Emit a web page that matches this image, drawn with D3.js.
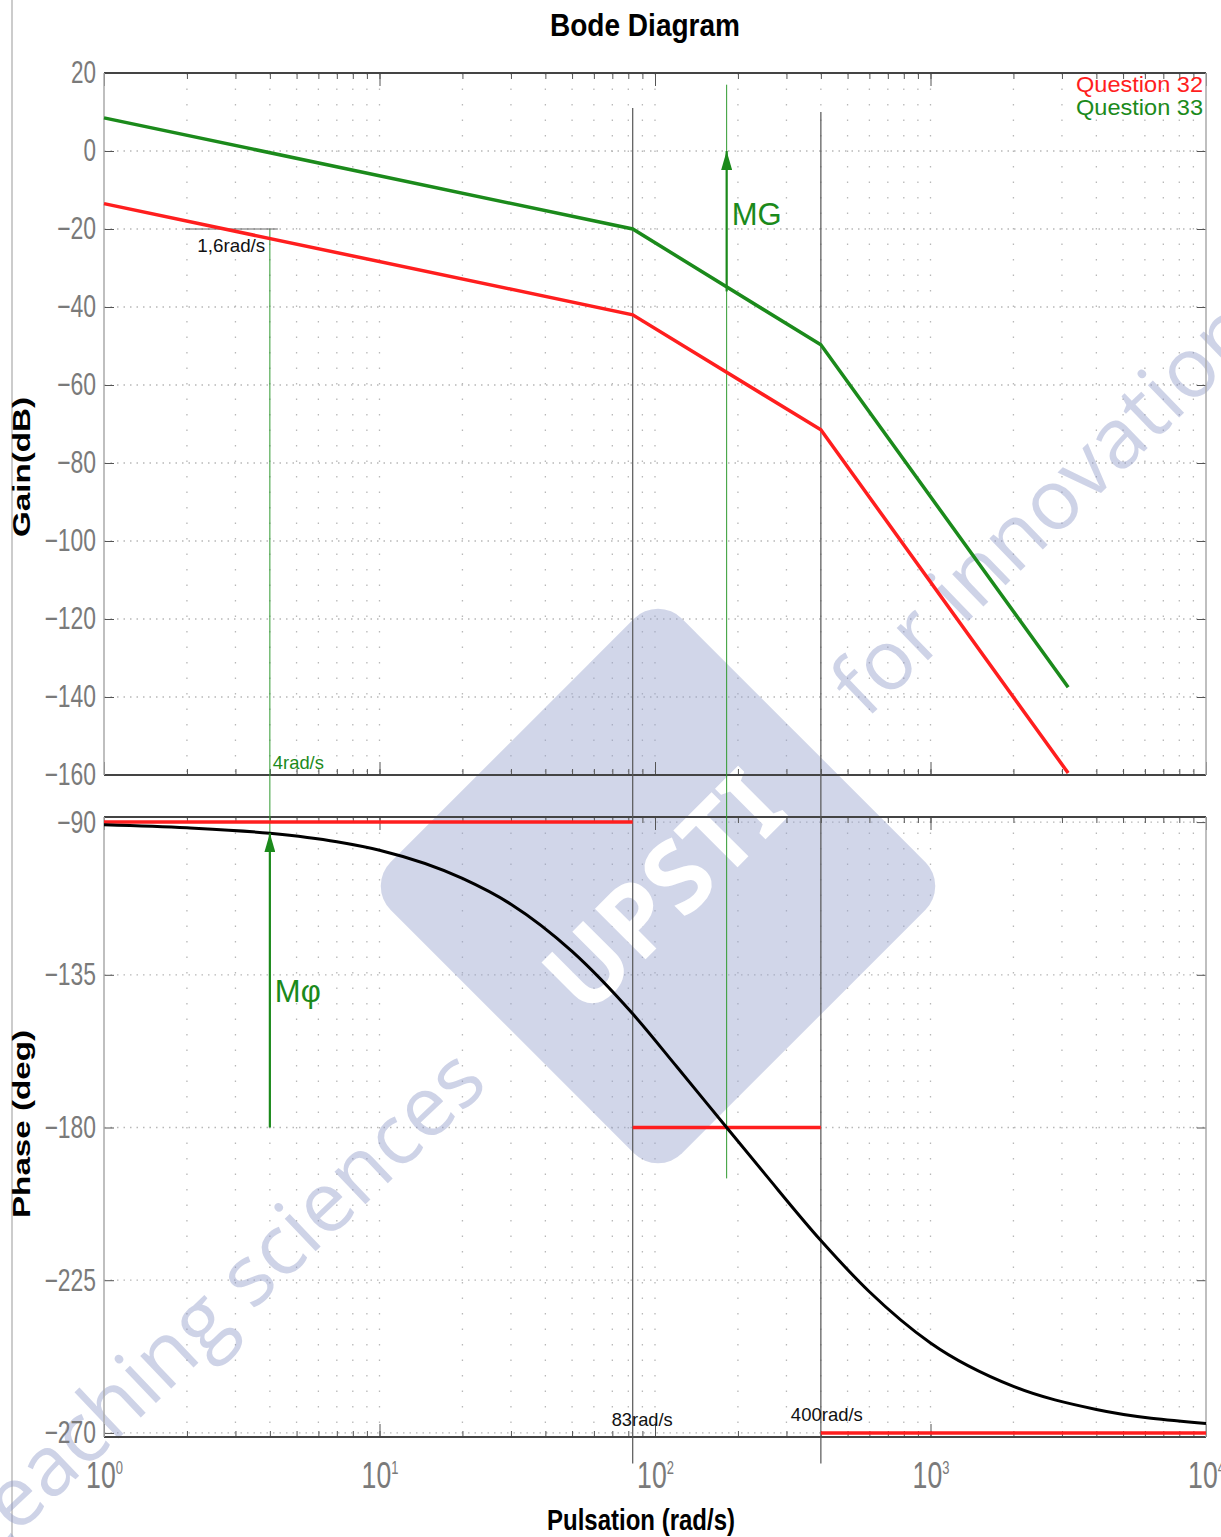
<!DOCTYPE html>
<meta charset="utf-8">
<style>
body { margin: 0; background: #fff; }
text { font-family: "Liberation Sans", Arial, sans-serif; }
.tick line { stroke: #555; stroke-width: 1; }
.grid line { stroke: #b8b8b8; stroke-width: 1.3; }
</style>
<body>
<script src="https://cdn.jsdelivr.net/npm/d3@7"></script>
<script>
// ---- data ----
var breakFreq = [1, 83, 400, 3160];               // rad/s
var gainQ32 = [-13.5, -42, -71.5, -159.5];        // dB, red
var gainQ33 = [8.5, -20, -49.7, -137.5];          // dB, green

var phaseFreq = [1, 2, 4, 7, 10, 20, 30, 50, 83, 120, 182, 250, 400, 600, 1000, 2000, 4000, 10000];
var phaseDeg = [-90.8, -91.7, -93.3, -95.8, -98.3, -106.6, -114.2, -128.1, -146.5, -162.1,
                -180, -193.6, -213.3, -228.4, -243.5, -256.3, -263.1, -267.2];

var asymFrom = [1, 83, 400];
var asymTo = [83, 400, 10000];
var asymDeg = [-90, -180, -270];

var gainTicks = [20, 0, -20, -40, -60, -80, -100, -120, -140, -160];
var phaseTicks = [-90, -135, -180, -225, -270];
var decades = [1, 10, 100, 1000, 10000];
var decadeExp = ["0", "1", "2", "3", "4"];

var cornerFreq = [83, 400];
var cornerLabel = ["83rad/s", "400rad/s"];
var legendNames = ["Question 32", "Question 33"];

var wMG = 182, gainAtMG = -36;     // gain margin arrow (green curve at phase crossover)
var wPM = 4, phaseAtPM = -93.3;    // phase margin arrow
var w16 = 1.6;

var RED = "#ff1e1e", GREEN = "#1b8a1b";

// ---- layout ----
var W = 1221, H = 1537;
var x = d3.scaleLog().domain([1, 1e4]).range([104, 1206]);
var yG = d3.scaleLinear().domain([-160, 20]).range([775, 73]);
var yP = d3.scaleLinear().domain([-271.2, -88.5]).range([1437, 817]);

var svg = d3.select("body").append("svg")
  .attr("width", W).attr("height", H);

var defs = svg.append("defs");
defs.append("marker")
  .attr("id", "head")
  .attr("viewBox", "0 0 10 10")
  .attr("refX", 10).attr("refY", 5)
  .attr("markerUnits", "userSpaceOnUse")
  .attr("markerWidth", 19).attr("markerHeight", 11)
  .attr("preserveAspectRatio", "none")
  .attr("orient", "auto")
  .append("path").attr("d", "M0,0 L10,5 L0,10 z").attr("fill", GREEN);

// page edge line
svg.append("line").attr("x1", 12).attr("x2", 12).attr("y1", 0).attr("y2", H)
  .style("stroke", "#bbb").style("stroke-width", 1.5);

// all minor frequencies
var minorFreq = [];
for (var d = 0; d < 4; d++) for (var k = 1; k < 10; k++) minorFreq.push(k * Math.pow(10, d));
minorFreq.push(1e4);

// ---- grids ----
function drawGrid(y, ticks) {
  var r = y.range();
  var g = svg.append("g").attr("class", "grid");
  g.selectAll(".v").data(minorFreq.filter(function(f) { return f > 1 && f < 1e4; }))
    .enter().append("line")
    .attr("x1", function(f) { return x(f); }).attr("x2", function(f) { return x(f); })
    .attr("y1", r[1]).attr("y2", r[0])
    .style("stroke-dasharray", "1.5,14");
  g.selectAll(".h").data(ticks).enter().append("line")
    .attr("x1", x(1)).attr("x2", x(1e4))
    .attr("y1", function(t) { return y(t); }).attr("y2", function(t) { return y(t); })
    .style("stroke-dasharray", "1.5,5");
}
drawGrid(yG, gainTicks);
drawGrid(yP, phaseTicks);

// ---- watermark ----
var wm = svg.append("g").attr("transform", "translate(658,886) rotate(-45)");
wm.append("rect").attr("x", -206).attr("y", -206).attr("width", 412).attr("height", 412)
  .attr("rx", 34).style("fill", "#9aa4cf").style("opacity", 0.45);
wm.append("text").attr("x", 0).attr("y", 8).attr("dy", "0.35em")
  .attr("text-anchor", "middle")
  .attr("textLength", 290).attr("lengthAdjust", "spacingAndGlyphs")
  .style("font-family", "'Noto Sans', sans-serif").style("font-weight", "bold")
  .style("font-size", "100px").style("fill", "#fff")
  .text("UPSTI");

svg.append("g").attr("transform", "translate(490,1086) rotate(-43.5)")
  .append("text").attr("text-anchor", "end")
  .style("font-family", "'Open Sans', sans-serif").style("font-size", "84px")
  .style("fill", "#8c97c8").style("opacity", 0.42)
  .text("teaching sciences");
svg.append("g").attr("transform", "translate(866,720) rotate(-44)")
  .append("text").attr("text-anchor", "start")
  .style("font-family", "'Open Sans', sans-serif").style("font-size", "84px")
  .style("fill", "#8c97c8").style("opacity", 0.42)
  .text("for innovation");

// ---- axes ----
function yLabels(sel) {
  sel.selectAll("text")
    .style("font-size", "31px").style("fill", "#7a7a7a")
    .attr("textLength", function(d) {
      var s = String(Math.abs(d));
      return s.length * 12.5 + (d < 0 ? 14 : 0);
    })
    .attr("lengthAdjust", "spacingAndGlyphs");
  sel.select(".domain").remove();
}

function panel(y, ticks) {
  var r = y.range();
  svg.append("g").attr("transform", "translate(" + x(1) + ",0)")
    .call(d3.axisLeft(y).tickValues(ticks).tickSize(-10).tickPadding(8))
    .call(yLabels);
  svg.append("g").attr("transform", "translate(" + x(1e4) + ",0)")
    .call(d3.axisRight(y).tickValues(ticks).tickSize(-9).tickFormat(""))
    .call(function(s) { s.select(".domain").remove(); });

  [[r[1], d3.axisTop], [r[0], d3.axisBottom]].forEach(function(p) {
    svg.append("g").attr("transform", "translate(0," + p[0] + ")")
      .call(p[1](x).tickValues(minorFreq).tickSize(-6).tickFormat(""))
      .call(function(s) { s.select(".domain").remove(); });
    svg.append("g").attr("transform", "translate(0," + p[0] + ")")
      .call(p[1](x).tickValues(decades).tickSize(-13).tickFormat(""))
      .call(function(s) { s.select(".domain").remove(); });
  });

  // frame
  svg.append("line").attr("x1", x(1)).attr("x2", x(1e4)).attr("y1", r[1]).attr("y2", r[1])
    .style("stroke", "#444").style("stroke-width", 2);
  svg.append("line").attr("x1", x(1)).attr("x2", x(1e4)).attr("y1", r[0]).attr("y2", r[0])
    .style("stroke", "#444").style("stroke-width", 2);
  svg.append("line").attr("x1", x(1)).attr("x2", x(1)).attr("y1", r[1]).attr("y2", r[0])
    .style("stroke", "#aaa").style("stroke-width", 1.5);
  svg.append("line").attr("x1", x(1e4)).attr("x2", x(1e4)).attr("y1", r[1]).attr("y2", r[0])
    .style("stroke", "#aaa").style("stroke-width", 1.5);
}
panel(yG, gainTicks);
panel(yP, phaseTicks);

// decade labels 10^n under the phase plot
var xl = svg.append("g").attr("transform", "translate(0," + yP.range()[0] + ")")
  .call(d3.axisBottom(x).tickValues(decades).tickSize(0).tickPadding(25).tickFormat(function() { return "10"; }));
xl.select(".domain").remove();
xl.selectAll("text")
  .style("font-size", "37px").style("fill", "#7a7a7a")
  .attr("transform", "scale(0.72,1)")
  .append("tspan").attr("dy", "-14px").style("font-size", "18px")
  .text(function(d, i) { return decadeExp[i]; });

// ---- reference lines ----
svg.selectAll(".corner").data(cornerFreq).enter().append("line")
  .attr("x1", function(f) { return x(f); }).attr("x2", function(f) { return x(f); })
  .attr("y1", function(f, i) { return yG(i ? 10 : 11); })
  .attr("y2", yP(-279))
  .style("stroke", "#555").style("stroke-width", 1.2);

// thin green guide at phase crossover
svg.append("line").attr("x1", x(wMG)).attr("x2", x(wMG))
  .attr("y1", yG(17)).attr("y2", yP(-195))
  .style("stroke", "#2f9a2f").style("stroke-width", 1);

// thin green guide at gain crossover
svg.append("line").attr("x1", x(wPM)).attr("x2", x(wPM))
  .attr("y1", yG(-20)).attr("y2", yP(phaseAtPM))
  .style("stroke", "#2f9a2f").style("stroke-width", 1);

// 1,6 rad/s marker
svg.append("line").attr("x1", x(w16) + 25).attr("x2", x(wPM) + 8)
  .attr("y1", yG(-20)).attr("y2", yG(-20))
  .style("stroke", "#666").style("stroke-width", 1);

// ---- gain curves ----
var gainLine = function(vals) {
  return d3.line()
    .x(function(f) { return x(f); })
    .y(function(f, i) { return yG(vals[i]); })(breakFreq);
};
svg.append("path").attr("d", gainLine(gainQ32))
  .style("fill", "none").style("stroke", RED).style("stroke-width", 3.5);
svg.append("path").attr("d", gainLine(gainQ33))
  .style("fill", "none").style("stroke", GREEN).style("stroke-width", 3.5);

// ---- phase ----
svg.selectAll(".asym").data(asymDeg).enter().append("line")
  .attr("x1", function(v, i) { return x(asymFrom[i]); })
  .attr("x2", function(v, i) { return x(asymTo[i]); })
  .attr("y1", function(v) { return yP(v); }).attr("y2", function(v) { return yP(v); })
  .style("stroke", RED).style("stroke-width", 3.5);

svg.append("path")
  .attr("d", d3.line().curve(d3.curveMonotoneX)
    .x(function(f) { return x(f); })
    .y(function(f, i) { return yP(phaseDeg[i]); })(phaseFreq))
  .style("fill", "none").style("stroke", "#000").style("stroke-width", 3);

// ---- margin arrows ----
svg.append("line").attr("x1", x(wMG)).attr("x2", x(wMG))
  .attr("y1", yG(gainAtMG)).attr("y2", yG(0))
  .style("stroke", GREEN).style("stroke-width", 2.2).attr("marker-end", "url(#head)");
svg.append("line").attr("x1", x(wPM)).attr("x2", x(wPM))
  .attr("y1", yP(-180)).attr("y2", yP(phaseAtPM))
  .style("stroke", GREEN).style("stroke-width", 2.2).attr("marker-end", "url(#head)");

svg.append("text").attr("x", x(wMG) + 5).attr("y", yG(-19))
  .style("font-size", "31px").style("fill", GREEN).text("MG");
svg.append("text").attr("x", x(wPM) + 5).attr("y", yP(-143))
  .style("font-size", "31px").style("fill", GREEN).text("Mφ");

// ---- small labels ----
svg.append("text").attr("x", x(wPM) + 3).attr("y", yG(-160) - 6)
  .attr("textLength", 51).attr("lengthAdjust", "spacingAndGlyphs")
  .style("font-size", "19px").style("fill", GREEN).text("4rad/s");
svg.append("text").attr("x", x(w16) + 37).attr("y", yG(-26))
  .attr("textLength", 68).attr("lengthAdjust", "spacingAndGlyphs")
  .style("font-size", "19px").style("fill", "#111").text("1,6rad/s");
svg.selectAll(".clab").data(cornerFreq).enter().append("text")
  .attr("x", function(f, i) { return x(f) + (i ? -30 : -21); })
  .attr("y", function(f, i) { return yP(i ? -266.5 : -268); })
  .attr("textLength", function(f, i) { return i ? 72 : 61; })
  .attr("lengthAdjust", "spacingAndGlyphs")
  .style("font-size", "19px").style("fill", "#111")
  .text(function(f, i) { return cornerLabel[i]; });

// ---- legend ----
svg.selectAll(".leg").data(legendNames).enter().append("text")
  .attr("x", 1203).attr("y", function(d, i) { return 92 + i * 23; })
  .attr("text-anchor", "end")
  .attr("textLength", 127).attr("lengthAdjust", "spacingAndGlyphs")
  .style("font-size", "22px")
  .style("fill", function(d, i) { return i ? GREEN : RED; })
  .text(function(d) { return d; });

// ---- titles ----
svg.append("text").attr("x", 645).attr("y", 36).attr("text-anchor", "middle")
  .attr("textLength", 190).attr("lengthAdjust", "spacingAndGlyphs")
  .style("font-size", "32px").style("font-weight", "bold").text("Bode Diagram");
svg.append("text").attr("x", 641).attr("y", 1530).attr("text-anchor", "middle")
  .attr("textLength", 188).attr("lengthAdjust", "spacingAndGlyphs")
  .style("font-size", "29px").style("font-weight", "bold").text("Pulsation  (rad/s)");
svg.append("text").attr("transform", "translate(30,467) rotate(-90)").attr("text-anchor", "middle")
  .attr("textLength", 140).attr("lengthAdjust", "spacingAndGlyphs")
  .style("font-size", "24px").style("font-weight", "bold").text("Gain(dB)");
svg.append("text").attr("transform", "translate(30,1124) rotate(-90)").attr("text-anchor", "middle")
  .attr("textLength", 188).attr("lengthAdjust", "spacingAndGlyphs")
  .style("font-size", "24px").style("font-weight", "bold").text("Phase (deg)");
</script>
